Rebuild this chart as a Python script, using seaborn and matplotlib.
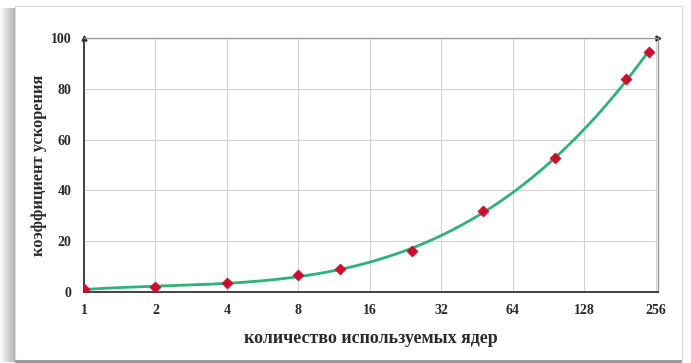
import numpy as np
import pandas as pd
import matplotlib
matplotlib.use("Agg")
import matplotlib.pyplot as plt
from matplotlib.patches import Rectangle
import seaborn as sns

# Measured speedup versus number of cores
cores = [1, 2, 4, 8, 12, 24, 48, 96, 192, 240]
speedup = [1.0, 2.0, 3.6, 6.6, 9.0, 16.0, 31.7, 52.9, 83.8, 94.5]
x_ticks = [1, 2, 4, 8, 16, 32, 64, 128, 256]
y_ticks = [0, 20, 40, 60, 80, 100]

x_label = "количество используемых ядер"
y_label = "коэффициент ускорения"

df = pd.DataFrame({"cores": cores, "speedup": speedup})

# Smooth trend curve: cubic fit in log2(cores)
t = np.log2(df["cores"].to_numpy())
coef = np.polyfit(t, df["speedup"].to_numpy(), 3)
t_fine = np.linspace(t.min(), t.max(), 300)
trend = pd.DataFrame({"cores": 2 ** t_fine, "speedup": np.polyval(coef, t_fine)})

sns.set_theme(style="white")
plt.rcParams["font.family"] = ["Liberation Serif", "DejaVu Serif"]

W, H = 691, 363
fig = plt.figure(figsize=(W / 100, H / 100), dpi=100)
fig.patch.set_facecolor("white")

# Card with a soft drop shadow on the left and bottom
card_l, card_r, card_t, card_b = 15, 682, 6, 360
for i in range(15):
    a = 0.03 + 0.035 * i
    fig.patches.append(Rectangle((i / W, 1 - (card_b + 2) / H), 1 / W, (card_b - card_t) / H,
                                 transform=fig.transFigure, facecolor="#707070",
                                 alpha=min(a, 0.55), edgecolor="none", zorder=0))
fig.patches.append(Rectangle((card_l / W, 1 - card_b / H), (card_r - card_l) / W, (card_b - card_t) / H,
                             transform=fig.transFigure, facecolor="white",
                             edgecolor="#d8d8d8", linewidth=0.8, zorder=1))
fig.patches.append(Rectangle((card_l / W, 1 - (card_b + 3) / H), (card_r - card_l) / W, 3 / H,
                             transform=fig.transFigure, facecolor="#9a9a9a",
                             edgecolor="none", zorder=1))

ax = fig.add_axes([84 / W, 1 - 292 / H, (658 - 84) / W, (292 - 38) / H])
ax.set_zorder(2)
ax.set_facecolor("white")
ax.set_xscale("log", base=2)

sns.lineplot(data=trend, x="cores", y="speedup", ax=ax, color="#2fb27a", linewidth=2.0, zorder=3)
sns.scatterplot(data=df, x="cores", y="speedup", ax=ax, marker="D", s=32,
                color="#c8102e", edgecolor="#c8102e", zorder=4)

ax.set_xlim(1, 2 ** 8.03)
ax.set_ylim(0, 100)
ax.set_xticks(x_ticks)
ax.set_xticklabels([str(v) for v in x_ticks])
ax.set_yticks(y_ticks)
ax.set_yticklabels([str(v) for v in y_ticks])
ax.minorticks_off()
ax.grid(True, color="#d4d4d4", linewidth=0.8)
ax.set_axisbelow(True)

for side in ("top", "right"):
    ax.spines[side].set_color("#9a9a9a")
    ax.spines[side].set_linewidth(1.0)
for side in ("left", "bottom"):
    ax.spines[side].set_color("#333333")
    ax.spines[side].set_linewidth(1.3)

ax.tick_params(axis="both", which="major", length=3, width=1, color="#333333",
               labelsize=10, labelcolor="#2a2a2a", pad=6)
for lab in ax.get_xticklabels() + ax.get_yticklabels():
    lab.set_fontweight("bold")

# Arrow heads at the ends of the axes
ax.plot(1, 1, marker=">", color="#222222", markersize=3.5, transform=ax.transAxes, clip_on=False)
ax.plot(0, 1, marker="^", color="#222222", markersize=3.5, transform=ax.transAxes, clip_on=False)

ax.set_xlabel(x_label, fontsize=13, fontweight="bold", color="#2a2a2a", labelpad=9)
ax.set_ylabel(y_label, fontsize=11.8, fontweight="bold", color="#2a2a2a", labelpad=3)

fig.savefig("out.png", dpi=100)
